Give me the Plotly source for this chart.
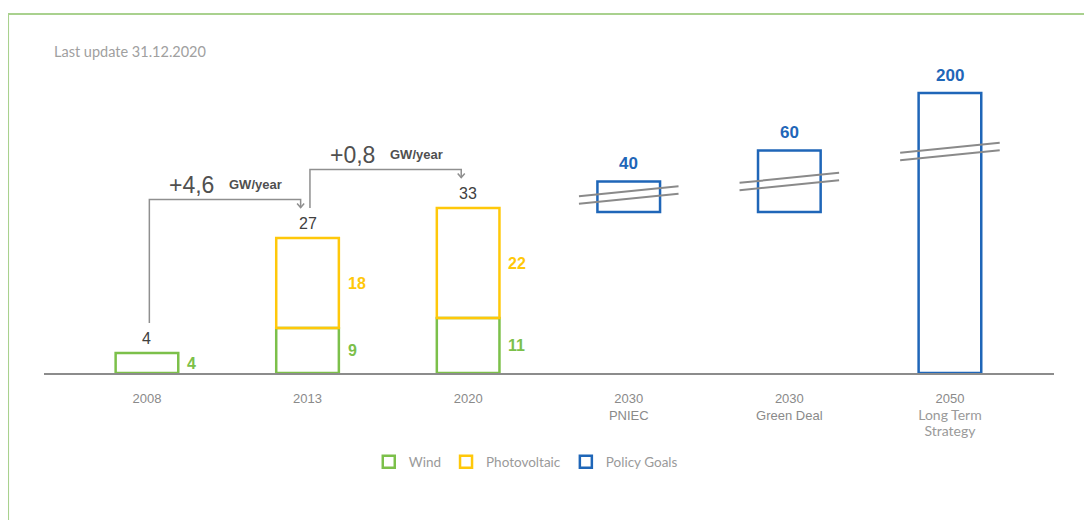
import plotly.graph_objects as go

# ---------------- data ----------------
categories = ["2008", "2013", "2020", "2030<br>PNIEC", "2030<br>Green Deal",
              "2050<br><span style=\"font-family:Lato;font-size:14px;color:#9a9a9a\">Long Term<br>Strategy</span>"]
hist_idx = [0, 1, 2]
wind = [4, 9, 11]
pv_idx = [1, 2]
pv = [18, 22]
totals = [4, 27, 33]

policy_idx = [3, 4, 5]
policy_values = [40, 60, 200]
# broken-axis drawing of the policy goals (visible box base/top on the axis)
policy_drawn_base = [32.2, 32.2, 0]
policy_drawn_top = [38.3, 44.5, 56.0]
policy_break_level = [35.6, 38.3, 44.3]

growth_from = [0, 1]
growth_to = [1, 2]
growth_labels = ["+4,6", "+0,8"]
growth_unit = "GW/year"

GREEN = "#7cc04a"
YELLOW = "#ffc80a"
BLUE = "#1f66b8"
GRAY_LINE = "#8f8f8f"

BW = 0.39

fig = go.Figure()

fig.add_trace(go.Bar(
    name="Wind", x=hist_idx, y=wind, base=[0] * len(wind), width=BW,
    marker=dict(color="rgba(255,255,255,0)", line=dict(color=GREEN, width=2.5)),
    hoverinfo="skip"))

pv_base = [wind[hist_idx.index(i)] for i in pv_idx]
fig.add_trace(go.Bar(
    name="Photovoltaic", x=pv_idx, y=pv, base=pv_base, width=BW,
    marker=dict(color="rgba(255,255,255,0)", line=dict(color=YELLOW, width=2.5)),
    hoverinfo="skip"))

fig.add_trace(go.Bar(
    name="Policy Goals", x=policy_idx,
    y=[t - b for t, b in zip(policy_drawn_top, policy_drawn_base)],
    base=policy_drawn_base, width=BW,
    marker=dict(color="rgba(255,255,255,0)", line=dict(color=BLUE, width=2.5)),
    hoverinfo="skip"))

annotations = []
shapes = []

# totals above historical bars
for i, t in zip(hist_idx, totals):
    annotations.append(dict(x=i, y=t, text=str(t), showarrow=False, yanchor="middle",
                            yshift=14.5, font=dict(family="Liberation Sans", size=16, color="#404040")))

# segment labels to the right
for i, w in zip(hist_idx, wind):
    annotations.append(dict(x=i + BW / 2, y=w / 2, text="<b>%d</b>" % w, showarrow=False,
                            xanchor="left", xshift=7, yanchor="middle",
                            font=dict(family="Liberation Sans", size=16, color=GREEN)))
for i, b, p in zip(pv_idx, pv_base, pv):
    annotations.append(dict(x=i + BW / 2, y=b + p / 2, text="<b>%d</b>" % p, showarrow=False,
                            xanchor="left", xshift=7, yanchor="middle",
                            font=dict(family="Liberation Sans", size=16, color=YELLOW)))

# policy goal labels
for i, top, v in zip(policy_idx, policy_drawn_top, policy_values):
    annotations.append(dict(x=i, y=top, text="<b>%d</b>" % v, showarrow=False, yanchor="middle",
                            yshift=18, font=dict(family="Liberation Sans", size=17, color=BLUE)))

# break marks
for i, lvl in zip(policy_idx, policy_break_level):
    for off in (-0.73, 0.73):
        shapes.append(dict(type="line", xref="x", yref="y",
                           x0=i - 0.31, x1=i + 0.31, y0=lvl + off - 1.0, y1=lvl + off + 1.0,
                           line=dict(color="#8a8a8a", width=2)))

# growth arrows
for f, t, lab in zip(growth_from, growth_to, growth_labels):
    xs = f + 0.015
    xe = t - 0.043
    ys = totals[f] + 6
    ytop = totals[t] + 7.7
    ye = totals[t] + 6.1
    shapes.append(dict(type="path", xref="x", yref="y",
                       path=f"M {xs},{ys} V {ytop} H {xe} V {ye}",
                       line=dict(color=GRAY_LINE, width=1.5)))
    shapes.append(dict(type="path", xref="x", yref="y",
                       path=f"M {xe - 0.022},{ye + 0.8} L {xe},{ye} L {xe + 0.022},{ye + 0.8}",
                       line=dict(color=GRAY_LINE, width=1.5)))
    annotations.append(dict(x=f + 0.433, y=ytop, text=lab, showarrow=False, xanchor="right",
                            yanchor="middle", yshift=15,
                            font=dict(family="Liberation Sans", size=23, color="#505050")))
    annotations.append(dict(x=f + 0.50, y=ytop, text="<b>" + growth_unit + "</b>", showarrow=False,
                            xanchor="left", yanchor="middle", yshift=15,
                            font=dict(family="Liberation Sans", size=13, color="#505050")))

# header text
annotations.append(dict(xref="paper", yref="paper", x=0.0079, y=0.964, text="Last update 31.12.2020",
                        showarrow=False, xanchor="left", yanchor="middle",
                        font=dict(family="Lato", size=14.5, color="#a0a0a0")))

# green frame
shapes.append(dict(type="rect", xref="paper", yref="paper", x0=-0.0356, x1=1.2, y0=-1.0, y1=1.078,
                   line=dict(color="#a9d18e", width=2), layer="below"))

fig.update_layout(
    width=1092, height=520,
    margin=dict(l=36, r=46, t=32, b=155),
    paper_bgcolor="white", plot_bgcolor="white",
    barmode="overlay",
    showlegend=True,
    legend=dict(orientation="h", x=0.477, xanchor="center", y=-0.267, yanchor="middle",
                font=dict(family="Lato", size=13.5, color="#9a9a9a"), itemwidth=30,
                bgcolor="rgba(0,0,0,0)"),
    xaxis=dict(range=[-0.641, 5.648], tickmode="array", tickvals=list(range(len(categories))),
               ticktext=categories, showgrid=False, zeroline=False,
               showline=True, linecolor="#8c8c8c", linewidth=2,
               ticks="", ticklabelstandoff=12,
               tickfont=dict(family="Liberation Sans", size=13, color="#8a8a8a")),
    yaxis=dict(range=[0, 66.6], visible=False, showgrid=False, zeroline=False),
    annotations=annotations,
    shapes=shapes,
)

fig.write_html("out.html")
